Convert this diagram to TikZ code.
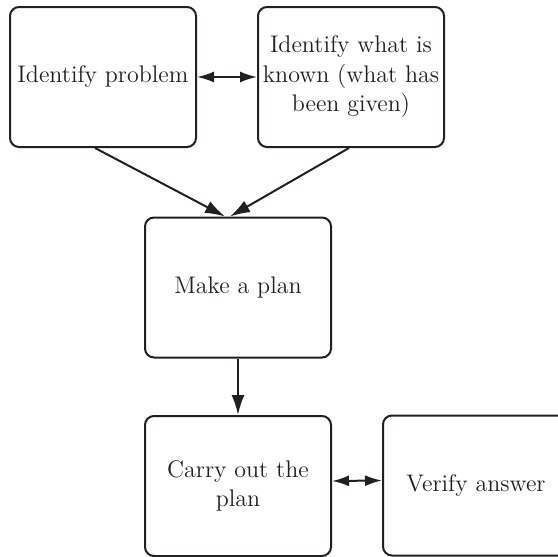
\documentclass[tikz,border=0pt]{standalone}
\usetikzlibrary{arrows.meta}
\definecolor{ink}{HTML}{231F20}

\begin{document}
\begin{tikzpicture}[x=0.5pt,y=-0.5pt,
    box/.style={draw=ink,text=ink,line width=1pt,rounded corners=4.5pt,
      minimum width=93pt,minimum height=70pt,inner sep=0pt,align=center,
      font=\fontsize{12}{14.75}\selectfont},
    arr/.style={draw=ink,line width=1pt,-{Latex[length=10pt,width=6.5pt]}},
    darr/.style={draw=ink,line width=1pt,{Latex[length=8.5pt,width=5.5pt]}-{Latex[length=8.5pt,width=5.5pt]}}]
  \useasboundingbox (0,0) rectangle (558,557);
  % the five steps
  \node[box] (problem) at (103,77) {Identify problem};
  \node[box] (known) at (351,77) {Identify what is\\known (what has\\been given)};
  \node[box] (plan) at (238,287.5) {Make a plan};
  \node[box] (carry) at (238,486) {Carry out the\\plan};
  \node[box] (verify) at (476,485.5) {Verify answer};
  % connectors
  \draw[darr] (problem.east) -- (known.west);
  \draw[arr] ([xshift=-4pt]problem.south) -- ([xshift=-6.5pt]plan.north);
  \draw[arr] ([xshift=-1pt]known.south) -- ([xshift=-4pt]plan.north);
  \draw[arr] (plan.south) -- (carry.north);
  \draw[darr] ([yshift=2.5pt]carry.east) -- ([yshift=2.5pt]verify.west);
\end{tikzpicture}
\end{document}
